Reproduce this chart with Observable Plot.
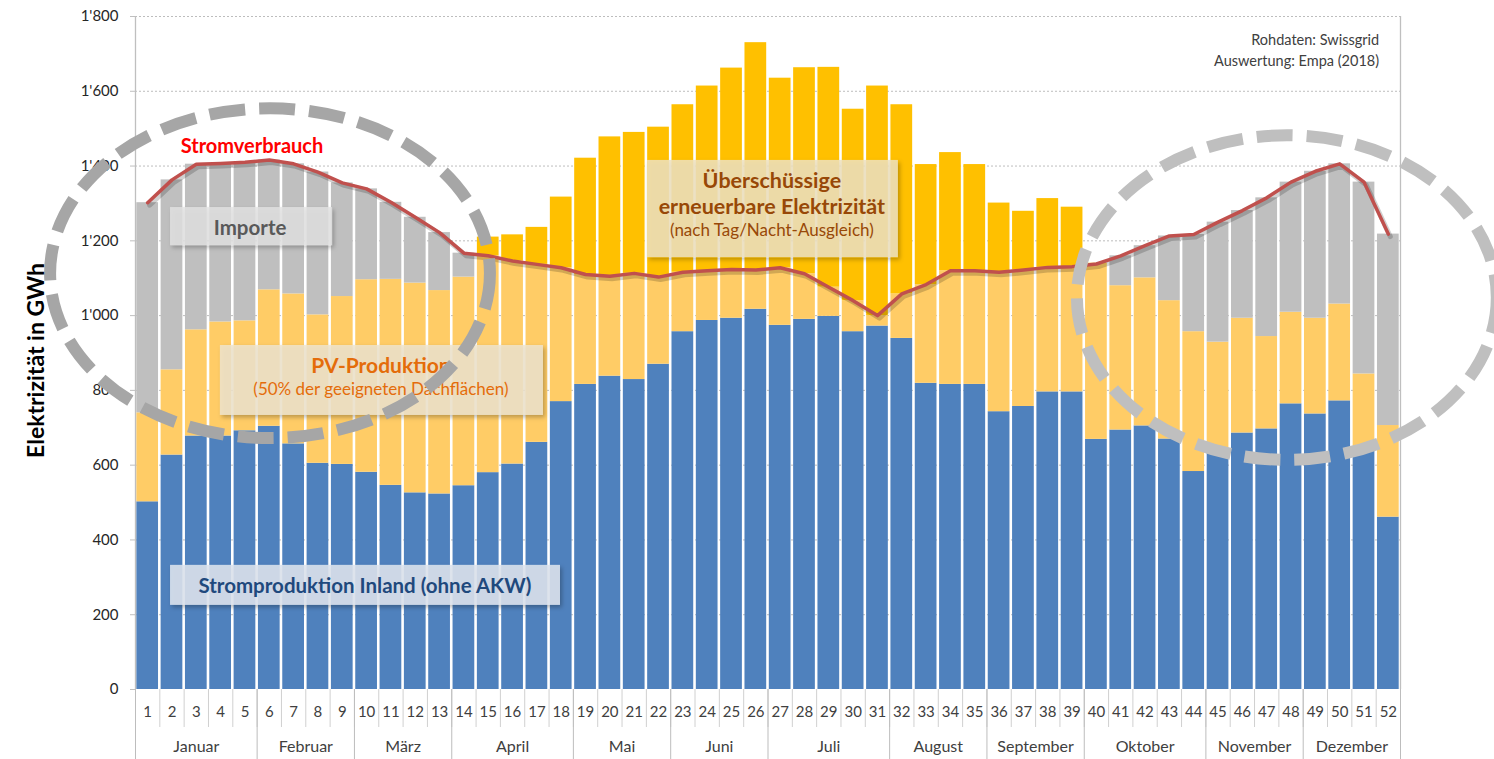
<!DOCTYPE html>
<html><head><meta charset="utf-8">
<script src="https://cdn.jsdelivr.net/npm/d3@7"></script>
<script src="https://cdn.jsdelivr.net/npm/@observablehq/plot@0.6"></script>
<style>body{margin:0;background:#fff;} svg{display:block}</style>
</head><body><div id="chart"></div>
<script>
// ---- data (GWh per calendar week) ----
const weeks = [1,2,3,4,5,6,7,8,9,10,11,12,13,14,15,16,17,18,19,20,21,22,23,24,25,26,27,28,29,30,31,32,33,34,35,36,37,38,39,40,41,42,43,44,45,46,47,48,49,50,51,52];
const inland = [502,627,678,678,692,704,657,605,602,581,546,526,523,545,580,603,661,770,816,838,829,870,957,987,993,1017,974,990,998,957,972,939,819,816,816,743,757,796,796,669,694,705,670,583,640,686,697,764,737,772,640,461];
const pv = [238,228,284,305,294,365,401,397,449,515,551,561,544,558,630,613,575,547,605,640,661,634,607,627,669,713,661,673,666,595,642,625,585,620,588,558,522,517,494,471,386,396,370,374,289,307,247,245,256,259,204,245];
const verbrauch = [1302,1363,1405,1407,1410,1416,1406,1384,1355,1339,1303,1263,1222,1167,1160,1146,1137,1128,1110,1105,1113,1103,1116,1120,1123,1122,1128,1112,1076,1040,1000,1058,1083,1120,1120,1116,1122,1129,1131,1138,1160,1187,1213,1217,1250,1281,1315,1357,1386,1406,1357,1218];
const months = ["Januar","Februar","März","April","Mai","Juni","Juli","August","September","Oktober","November","Dezember"];
const monthFirstWeek = [1,6,10,14,19,23,27,32,36,40,45,49];
const monthLastWeek = [5,9,13,18,22,26,31,35,39,44,48,52];
const yTicks = [0,200,400,600,800,1000,1200,1400,1600,1800];

// ---- derived ----
const rows = weeks.map((w,i)=>({week:w, inland:inland[i], total:inland[i]+pv[i], cons:verbrauch[i]}));
const weekBounds = [weeks[0]-0.5, ...weeks.map(w=>w+0.5)];
const monthBounds = [monthFirstWeek[0]-0.5, ...monthLastWeek.map(w=>w+0.5)];
const monthCenters = months.map((m,i)=>(monthFirstWeek[i]+monthLastWeek[i])/2);
const monthName = new Map(monthCenters.map((c,i)=>[c, months[i]]));
const fmt = d3.formatLocale({decimal:".", thousands:"'", grouping:[3], currency:["",""]}).format(",");
const FONT = "Lato, 'Open Sans', 'DejaVu Sans', sans-serif";
const bx = {x1:d=>d.week-0.5, x2:d=>d.week+0.5, insetLeft:1.3, insetRight:1.3};

const plot = Plot.plot({
  width:1494, height:759,
  marginLeft:135, marginRight:94, marginTop:16, marginBottom:70,
  style:{fontFamily:FONT, background:"#fff", overflow:"visible"},
  x:{type:"linear", domain:[0.5,52.5], label:null},
  y:{domain:[0,1800], label:null},
  marks:[
    Plot.ruleY(yTicks.filter(t=>t>0), {stroke:"#bdbdbd", strokeDasharray:"2,2"}),
    Plot.rectY(rows, {...bx, y1:0, y2:"inland", fill:"#4f81bd"}),
    Plot.rectY(rows, {...bx, y1:"inland", y2:d=>Math.min(d.total,d.cons), fill:"#ffcc66"}),
    Plot.rectY(rows.filter(d=>d.cons>d.total), {...bx, y1:"total", y2:"cons", fill:"#bfbfbf"}),
    Plot.rectY(rows.filter(d=>d.total>d.cons), {...bx, y1:"cons", y2:"total", fill:"#ffc000"}),
    Plot.line(rows, {x:"week", y:"cons", stroke:"#000", strokeOpacity:0.18, strokeWidth:5, dx:2, dy:2.5}),
    Plot.line(rows, {x:"week", y:"cons", stroke:"#c0504d", strokeWidth:3.5}),
    Plot.ruleX([weekBounds[0], weekBounds[weekBounds.length-1]], {stroke:"#bfbfbf", strokeWidth:1.3}),
    Plot.axisY({ticks:yTicks, tickSize:5, tickFormat:()=>"", color:"#bfbfbf", label:null}),
    Plot.axisY({ticks:yTicks, tickSize:0, tickPadding:17, tickFormat:fmt, fontSize:15, color:"#262626", label:null}),
    Plot.axisX({ticks:weekBounds, tickSize:38, tickFormat:()=>"", color:"#d0d0d0", label:null}),
    Plot.axisX({ticks:monthBounds, tickSize:70, tickFormat:()=>"", color:"#bdbdbd", label:null}),
    Plot.axisX({ticks:weeks, tickSize:0, tickPadding:17, tickFormat:d=>String(d), fontSize:15, color:"#404040", label:null}),
    Plot.axisX({ticks:monthCenters, tickSize:0, tickPadding:51, tickFormat:d=>monthName.get(d), fontSize:16, color:"#404040", label:null})
  ]
});
document.getElementById("chart").appendChild(plot);

// ---- annotations (in data units: week, GWh) ----
const X = v=>plot.scale("x").apply(v), Y = v=>plot.scale("y").apply(v);
const svg = d3.select(plot);
const defs = svg.append("defs");
const f = defs.append("filter").attr("id","sh").attr("x","-10%").attr("y","-10%").attr("width","130%").attr("height","140%");
f.append("feDropShadow").attr("dx",2).attr("dy",2.5).attr("stdDeviation",2).attr("flood-color","#000").attr("flood-opacity",0.3);

const g = svg.append("g").attr("font-family", FONT);
const boxes = [
  {w1:1.94,w2:8.60,v1:1187,v2:1289, fill:"#e3e3e3", op:0.82},
  {w1:21.55,w2:31.86,v1:1155,v2:1415, fill:"#efe2bf", op:0.85},
  {w1:3.99,w2:17.27,v1:733,v2:920, fill:"#efe4cc", op:0.85},
  {w1:1.94,w2:17.97,v1:225,v2:332, fill:"#dde4ee", op:0.88}
];
boxes.forEach(b=>{
  g.append("rect").attr("x",X(b.w1)).attr("y",Y(b.v2)).attr("width",X(b.w2)-X(b.w1)).attr("height",Y(b.v1)-Y(b.v2))
   .attr("fill",b.fill).attr("fill-opacity",b.op).attr("filter","url(#sh)");
});
const texts = [
  {w:5.23, v:1236, t:"Importe", c:"#595959", s:20.5, b:700},
  {w:26.68, v:1361, t:"Überschüssige", c:"#984807", s:21.5, b:700},
  {w:26.68, v:1292, t:"erneuerbare Elektrizität", c:"#984807", s:21.5, b:700},
  {w:26.68, v:1228, t:"(nach Tag/Nacht-Ausgleich)", c:"#984807", s:17, b:400},
  {w:10.61, v:869, t:"PV-Produktion", c:"#e46c0a", s:21, b:700},
  {w:10.61, v:805, t:"(50% der geeigneten Dachflächen)", c:"#e46c0a", s:17, b:400},
  {w:9.95, v:278, t:"Stromproduktion Inland (ohne AKW)", c:"#1f497d", s:20.5, b:700},
  {w:5.31, v:1455, t:"Stromverbrauch", c:"#ff0000", s:20, b:700}
];
texts.forEach(d=>{
  g.append("text").attr("x",X(d.w)).attr("y",Y(d.v)).attr("text-anchor","middle").attr("dominant-baseline","central")
   .attr("font-size",d.s).attr("font-weight",d.b).attr("fill",d.c).text(d.t);
});
[["Rohdaten: Swissgrid",1736],["Auswertung: Empa (2018)",1680]].forEach(([t,v])=>{
  g.append("text").attr("x",X(51.64)).attr("y",Y(v)).attr("text-anchor","end").attr("dominant-baseline","central")
   .attr("font-size",14.5).attr("fill","#404040").text(t);
});
// dashed ellipses
const ellipses = [
  {w:6.05, v:1112, rw:9.04, rv:441, c:"#a6a6a6"},
  {w:47.85, v:1047, rw:8.63, rv:434, c:"#bfbfbf"}
];
ellipses.forEach(e=>{
  g.append("ellipse").attr("cx",X(e.w)).attr("cy",Y(e.v))
   .attr("rx",X(e.w+e.rw)-X(e.w)).attr("ry",Y(e.v-e.rv)-Y(e.v))
   .attr("fill","none").attr("stroke",e.c).attr("stroke-width",12).attr("stroke-dasharray","36,14");
});
// y axis title
g.append("text").attr("transform",`translate(35,${(Y(0)+Y(1800))/2 + 8}) rotate(-90)`)
 .attr("text-anchor","middle").attr("dominant-baseline","central")
 .attr("font-size",23).attr("font-weight",700).attr("fill","#000").text("Elektrizität in GWh");
</script></body></html>
